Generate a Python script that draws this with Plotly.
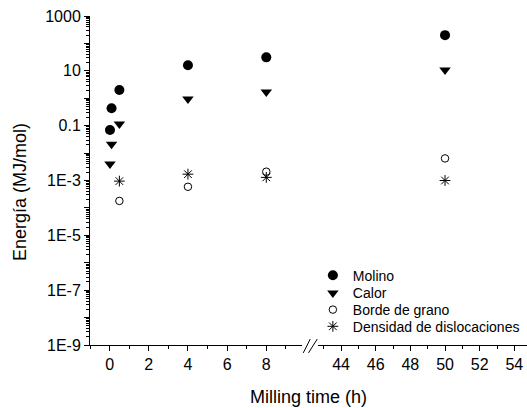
import plotly.graph_objects as go

# Milling times (h) for the short-time segment and the long-time segment
times_short = [0.02, 0.1, 0.5, 4, 8]
times_bg = [0.5, 4, 8]
times_long = [50]

# Energies (MJ/mol)
molino_short = [0.069, 0.43, 2.0, 16, 31]
molino_long = [200]
calor_short = [0.004, 0.021, 0.115, 0.93, 1.7]
calor_long = [10.7]
borde_short = [1.8e-4, 5.9e-4, 0.0021]
borde_long = [0.0064]
disloc_short = [9.5e-4, 0.0017, 0.0013]
disloc_long = [0.001]

series_names = ["Molino", "Calor", "Borde de grano", "Densidad de dislocaciones"]

ytick_exp = list(range(-9, 4))
ytick_labels = {3: "1000", 1: "10", -1: "0.1", -3: "1E-3", -5: "1E-5", -7: "1E-7", -9: "1E-9"}
x_short_ticks = [0, 2, 4, 6, 8]
x_long_ticks = [44, 46, 48, 50, 52, 54]

FONT = "Liberation Sans, Arial, sans-serif"

styles = [
    dict(symbol="circle", size=10, color="black", line=dict(width=0)),
    dict(symbol="triangle-down", size=10, color="black", line=dict(width=0)),
    dict(symbol="circle-open", size=7.5, color="black", line=dict(width=1, color="black")),
    dict(symbol="asterisk-open", size=9, color="black", line=dict(width=1, color="black")),
]
short_data = [
    (times_short, molino_short),
    (times_short, calor_short),
    (times_bg, borde_short),
    (times_bg, disloc_short),
]
long_data = [molino_long, calor_long, borde_long, disloc_long]

# One single-entry legend per series so the rows sit tightly stacked
legend_ids = ["legend", "legend2", "legend3", "legend4"]
legend_rows_y = [0.2106, 0.1571, 0.1064, 0.0556]

fig = go.Figure()
for name, st, (xs, ys), yl, lid in zip(series_names, styles, short_data, long_data, legend_ids):
    fig.add_trace(go.Scatter(x=xs, y=ys, mode="markers", name=name, marker=st,
                             legendgroup=name, legend=lid, xaxis="x", yaxis="y"))
    fig.add_trace(go.Scatter(x=times_long, y=yl, mode="markers", name=name, marker=st,
                             legendgroup=name, legend=lid, showlegend=False,
                             xaxis="x2", yaxis="y"))

minor_y = [k * 10.0 ** e for e in range(-9, 3) for k in range(2, 10)]

axis_common = dict(showline=True, linecolor="black", linewidth=1, ticks="outside",
                   tickcolor="black", tickwidth=1, ticklen=5, showgrid=False,
                   zeroline=False, tickfont=dict(family=FONT, size=16, color="black"))

legend_style = dict(x=0.51, xanchor="left", yanchor="middle", bgcolor="rgba(0,0,0,0)",
                    font=dict(family=FONT, size=14, color="black"), itemsizing="trace")

fig.update_layout(
    width=527, height=408,
    margin=dict(l=90, r=0, t=16, b=63),
    paper_bgcolor="white", plot_bgcolor="white",
    font=dict(family=FONT, color="black"),
    xaxis=dict(domain=[0, 0.485], range=[-1, 9.82], anchor="y",
               tickmode="array", tickvals=x_short_ticks,
               minor=dict(tickmode="array", tickvals=[-1, 1, 3, 5, 7, 9], ticks="outside",
                          ticklen=3, tickcolor="black", tickwidth=1),
               **axis_common),
    xaxis2=dict(domain=[0.5217, 1], range=[42.67, 54.73], anchor="y",
                tickmode="array", tickvals=x_long_ticks,
                minor=dict(tickmode="array", tickvals=[43, 45, 47, 49, 51, 53], ticks="outside",
                           ticklen=3, tickcolor="black", tickwidth=1),
                **axis_common),
    yaxis=dict(type="log", range=[-9, 3], anchor="x",
               tickmode="array", tickvals=[10.0 ** e for e in ytick_exp],
               ticktext=[ytick_labels.get(e, "") for e in ytick_exp],
               minor=dict(tickmode="array", tickvals=minor_y, ticks="outside",
                          ticklen=3, tickcolor="black", tickwidth=1),
               **axis_common),
    showlegend=True,
)
for lid, ly in zip(legend_ids, legend_rows_y):
    fig.update_layout({lid: dict(y=ly, **legend_style)})

# Axis titles
fig.add_annotation(text="Milling time (h)", xref="paper", yref="paper", x=0.5, y=-0.158,
                   xanchor="center", yanchor="middle", showarrow=False,
                   font=dict(family=FONT, size=18, color="black"))
fig.add_annotation(text="Energía (MJ/mol)", xref="paper", yref="paper", x=-0.160, y=0.465,
                   xanchor="center", yanchor="middle", textangle=-90, showarrow=False,
                   font=dict(family=FONT, size=18, color="black"))

# Axis break marks
for x0, x1 in [(0.488, 0.504), (0.5, 0.52)]:
    fig.add_shape(type="line", xref="paper", yref="paper", x0=x0, x1=x1,
                  y0=-0.024, y1=0.018, line=dict(color="black", width=1))

fig.write_html("out.html")
